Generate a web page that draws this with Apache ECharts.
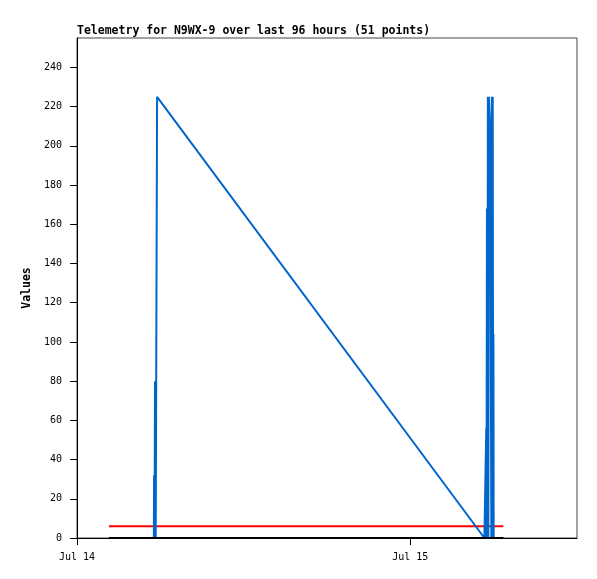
<!DOCTYPE html>
<html>
<head>
<meta charset="utf-8">
<script src="https://cdn.jsdelivr.net/npm/echarts@6/dist/echarts.min.js"></script>
<style>
  html, body { margin: 0; padding: 0; background: #fff; }
  #chart { width: 597px; height: 579px; }
</style>
</head>
<body>
<div id="chart"></div>
<script>
// blue telemetry channel: [time, value]
var blueData = [
  ['2024-07-14 02:18', 0],
  ['2024-07-14 05:32', 0],
  ['2024-07-14 05:33', 32],
  ['2024-07-14 05:35', 0],
  ['2024-07-14 05:37', 80],
  ['2024-07-14 05:40', 0],
  ['2024-07-14 05:46', 0],
  ['2024-07-14 05:46', 225],
  ['2024-07-15 05:20', 0],
  ['2024-07-15 05:28', 0],
  ['2024-07-15 05:28', 56],
  ['2024-07-15 05:29', 0],
  ['2024-07-15 05:31', 168],
  ['2024-07-15 05:33', 0],
  ['2024-07-15 05:35', 225],
  ['2024-07-15 05:37', 0],
  ['2024-07-15 05:39', 225],
  ['2024-07-15 05:45', 208],
  ['2024-07-15 05:50', 0],
  ['2024-07-15 05:52', 225],
  ['2024-07-15 05:55', 0],
  ['2024-07-15 05:56', 225],
  ['2024-07-15 05:58', 0],
  ['2024-07-15 05:59', 104],
  ['2024-07-15 06:00', 0],
  ['2024-07-15 06:42', 0]
]
var redData = [
  ['2024-07-14 02:18', 6],
  ['2024-07-15 06:42', 6]
]
var blackData = [
  ['2024-07-14 02:18', 0],
  ['2024-07-15 06:42', 0]
]
var yTicks = [0, 20, 40, 60, 80, 100, 120, 140, 160, 180, 200, 220, 240]
var xTickLabels = ['Jul 14', 'Jul 15']

var DAY = 24 * 3600 * 1000
var xMin = +new Date(2024, 6, 14)
var xMax = +new Date(2024, 6, 15, 12)
var font = '"DejaVu Sans Mono", monospace'

var option = {
  animation: false,
  backgroundColor: '#fff',
  title: {
    text: 'Telemetry for N9WX-9 over last 96 hours (51 points)',
    left: 77,
    top: 25,
    padding: 0,
    textStyle: { fontFamily: font, fontSize: 11.5, fontWeight: 'bold', color: '#000' }
  },
  grid: {
    left: 77,
    top: 38,
    right: 20,
    bottom: 41,
    show: true,
    borderColor: '#444',
    borderWidth: 1
  },
  xAxis: {
    type: 'time',
    min: xMin,
    max: xMax,
    minInterval: DAY,
    maxInterval: DAY,
    axisLine: { lineStyle: { color: '#000', width: 1 } },
    axisTick: { length: 7, lineStyle: { color: '#000' } },
    axisLabel: {
      margin: 14,
      fontFamily: font,
      fontSize: 10,
      color: '#000',
      showMaxLabel: false,
      formatter: function (v) {
        var i = Math.round((v - xMin) / DAY)
        if (Math.abs(v - xMin - i * DAY) > 60000) return ''
        return xTickLabels[i] || ''
      }
    },
    splitLine: { show: false }
  },
  yAxis: {
    type: 'value',
    min: 0,
    max: 255,
    name: 'Values',
    nameLocation: 'middle',
    nameGap: 37,
    nameTextStyle: { fontFamily: font, fontSize: 11.5, fontWeight: 'bold', color: '#000' },
    axisLine: { show: true, lineStyle: { color: '#000', width: 1 } },
    axisTick: { show: true, length: 7, lineStyle: { color: '#000' }, customValues: yTicks },
    axisLabel: { customValues: yTicks, margin: 15, fontFamily: font, fontSize: 10, color: '#000' },
    splitLine: { show: false }
  },
  series: [
    {
      type: 'line',
      data: redData,
      showSymbol: false,
      lineStyle: { color: '#ff0000', width: 2 }
    },
    {
      type: 'line',
      data: blueData,
      showSymbol: false,
      lineStyle: { color: '#0066cc', width: 2 }
    },
    {
      type: 'line',
      data: blackData,
      showSymbol: false,
      lineStyle: { color: '#000', width: 2 }
    }
  ]
}

var myChart = echarts.init(document.getElementById('chart'))
myChart.setOption(option)
</script>
</body>
</html>
